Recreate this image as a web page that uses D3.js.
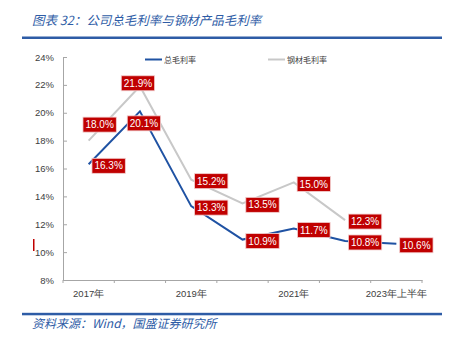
<!DOCTYPE html>
<html><head><meta charset="utf-8">
<script src="https://cdn.jsdelivr.net/npm/d3@7/dist/d3.min.js"></script>
<style>body{margin:0;background:#fff;}svg{display:block;}</style>
</head><body>
<svg id="chart" width="457" height="341"></svg>
<script>
const categories = ["2017年","2018年","2019年","2020年","2021年","2022年","2023年上半年"];
const tickLabels = ["2017年","","2019年","","2021年","","2023年上半年"];
const totalMargin = [16.3, 20.1, 13.3, 10.9, 11.7, 10.8, 10.6];
const steelMargin = [18.0, 21.9, 15.2, 13.5, 15.0, 12.3];
const yTicks = [8,10,12,14,16,18,20,22,24];
const totalLabelPlace = ["r","b","r","r","r","r","r"];
const steelLabelPlace = ["tr","t","r","r","r","r"];
const seriesNames = ["总毛利率","钢材毛利率"];
const titleText = "图表 32：公司总毛利率与钢材产品毛利率";
const sourceText = "资料来源：Wind，国盛证券研究所";

const svg = d3.select("#chart");
const blue = "#1F52A3", gray = "#C8C8C8", red = "#C00000", navy = "#2E5CA6";
const cn = "'Noto Sans CJK SC', sans-serif";
const num = "'Liberation Sans', Arial, sans-serif";

// header
svg.append("text").attr("x", 32).attr("y", 25).text(titleText)
  .attr("font-family", cn).attr("font-size", 12.5).attr("font-style","italic").attr("fill", navy);
svg.append("rect").attr("x", 22).attr("y", 36.5).attr("width", 420).attr("height", 2.5).attr("fill", navy);
// footer
svg.append("rect").attr("x", 22).attr("y", 312.8).attr("width", 420).attr("height", 2.5).attr("fill", navy);
svg.append("text").attr("x", 32).attr("y", 328).text(sourceText)
  .attr("font-family", cn).attr("font-size", 12).attr("font-style","italic").attr("fill", navy);

const x = d3.scaleBand().domain(categories).range([63, 422]).padding(0);
const y = d3.scaleLinear().domain([8, 24]).range([280, 57]);
const cx = c => x(c) + x.bandwidth()/2;

// y axis
const yAxis = svg.append("g").attr("transform","translate(63,0)")
  .call(d3.axisLeft(y).tickValues(yTicks).tickFormat(d => d + "%").tickSizeInner(-4).tickSizeOuter(0).tickPadding(9));
yAxis.select(".domain").attr("stroke","#A6A6A6");
yAxis.selectAll(".tick line").attr("stroke","#A6A6A6");
yAxis.selectAll("text").attr("font-family", num).attr("font-size", 9.5).attr("fill","#404040");

// x axis
const xAxis = svg.append("g").attr("transform","translate(0,280)")
  .call(d3.axisBottom(x).tickFormat((d,i) => tickLabels[i]).tickSize(0).tickPadding(10));
xAxis.select(".domain").attr("stroke","#A6A6A6");
xAxis.selectAll("text").attr("font-family", num).attr("font-size", 9.5).attr("fill","#404040");
const bounds = categories.map(c => x(c)).concat([x(categories[categories.length-1]) + x.bandwidth()]);
xAxis.selectAll(".btick").data(bounds).join("line").attr("class","btick")
  .attr("x1", d => d).attr("x2", d => d).attr("y1", 0).attr("y2", 3).attr("stroke","#A6A6A6");

// lines
const line = d3.line().x((d,i) => cx(categories[i])).y(d => y(d));
svg.append("path").datum(steelMargin).attr("d", line).attr("fill","none").attr("stroke", gray).attr("stroke-width", 2);
svg.append("path").datum(totalMargin).attr("d", line).attr("fill","none").attr("stroke", blue).attr("stroke-width", 2);

// legend
const legend = svg.append("g");
[[145, blue], [268, gray]].forEach(([lx, col], i) => {
  legend.append("line").attr("x1", lx).attr("x2", lx + 17).attr("y1", 59.5).attr("y2", 59.5).attr("stroke", col).attr("stroke-width", 2);
  legend.append("text").attr("x", lx + 19).attr("y", 62.5).text(seriesNames[i])
    .attr("font-family", cn).attr("font-size", 8).attr("fill", "#404040");
});

// data labels
const offsets = { r: [20, 1.5], b: [4, 12], tr: [11, -16], t: [-2, -3] };
function labels(vals, places) {
  vals.forEach((v, i) => {
    const px = cx(categories[i]), py = y(v);
    const [dx, dy] = offsets[places[i]];
    const g = svg.append("g").attr("transform", `translate(${px + dx},${py + dy})`);
    const t = g.append("text").text(v.toFixed(1) + "%").attr("text-anchor","middle").attr("y", 3.6)
      .attr("font-family", num).attr("font-size", 10).attr("fill", "#fff");
    const w = t.node().getComputedTextLength() + 5;
    g.insert("rect", "text").attr("x", -w/2).attr("y", -7.5).attr("width", w).attr("height", 15)
      .attr("fill", red).attr("stroke", "#F2D0D0").attr("stroke-width", 0.8);
  });
}
labels(steelMargin, steelLabelPlace);
labels(totalMargin, totalLabelPlace);

// small red marker at left
svg.append("rect").attr("x", 33).attr("y", 239).attr("width", 1.5).attr("height", 12).attr("fill", red);
</script>
</body></html>
